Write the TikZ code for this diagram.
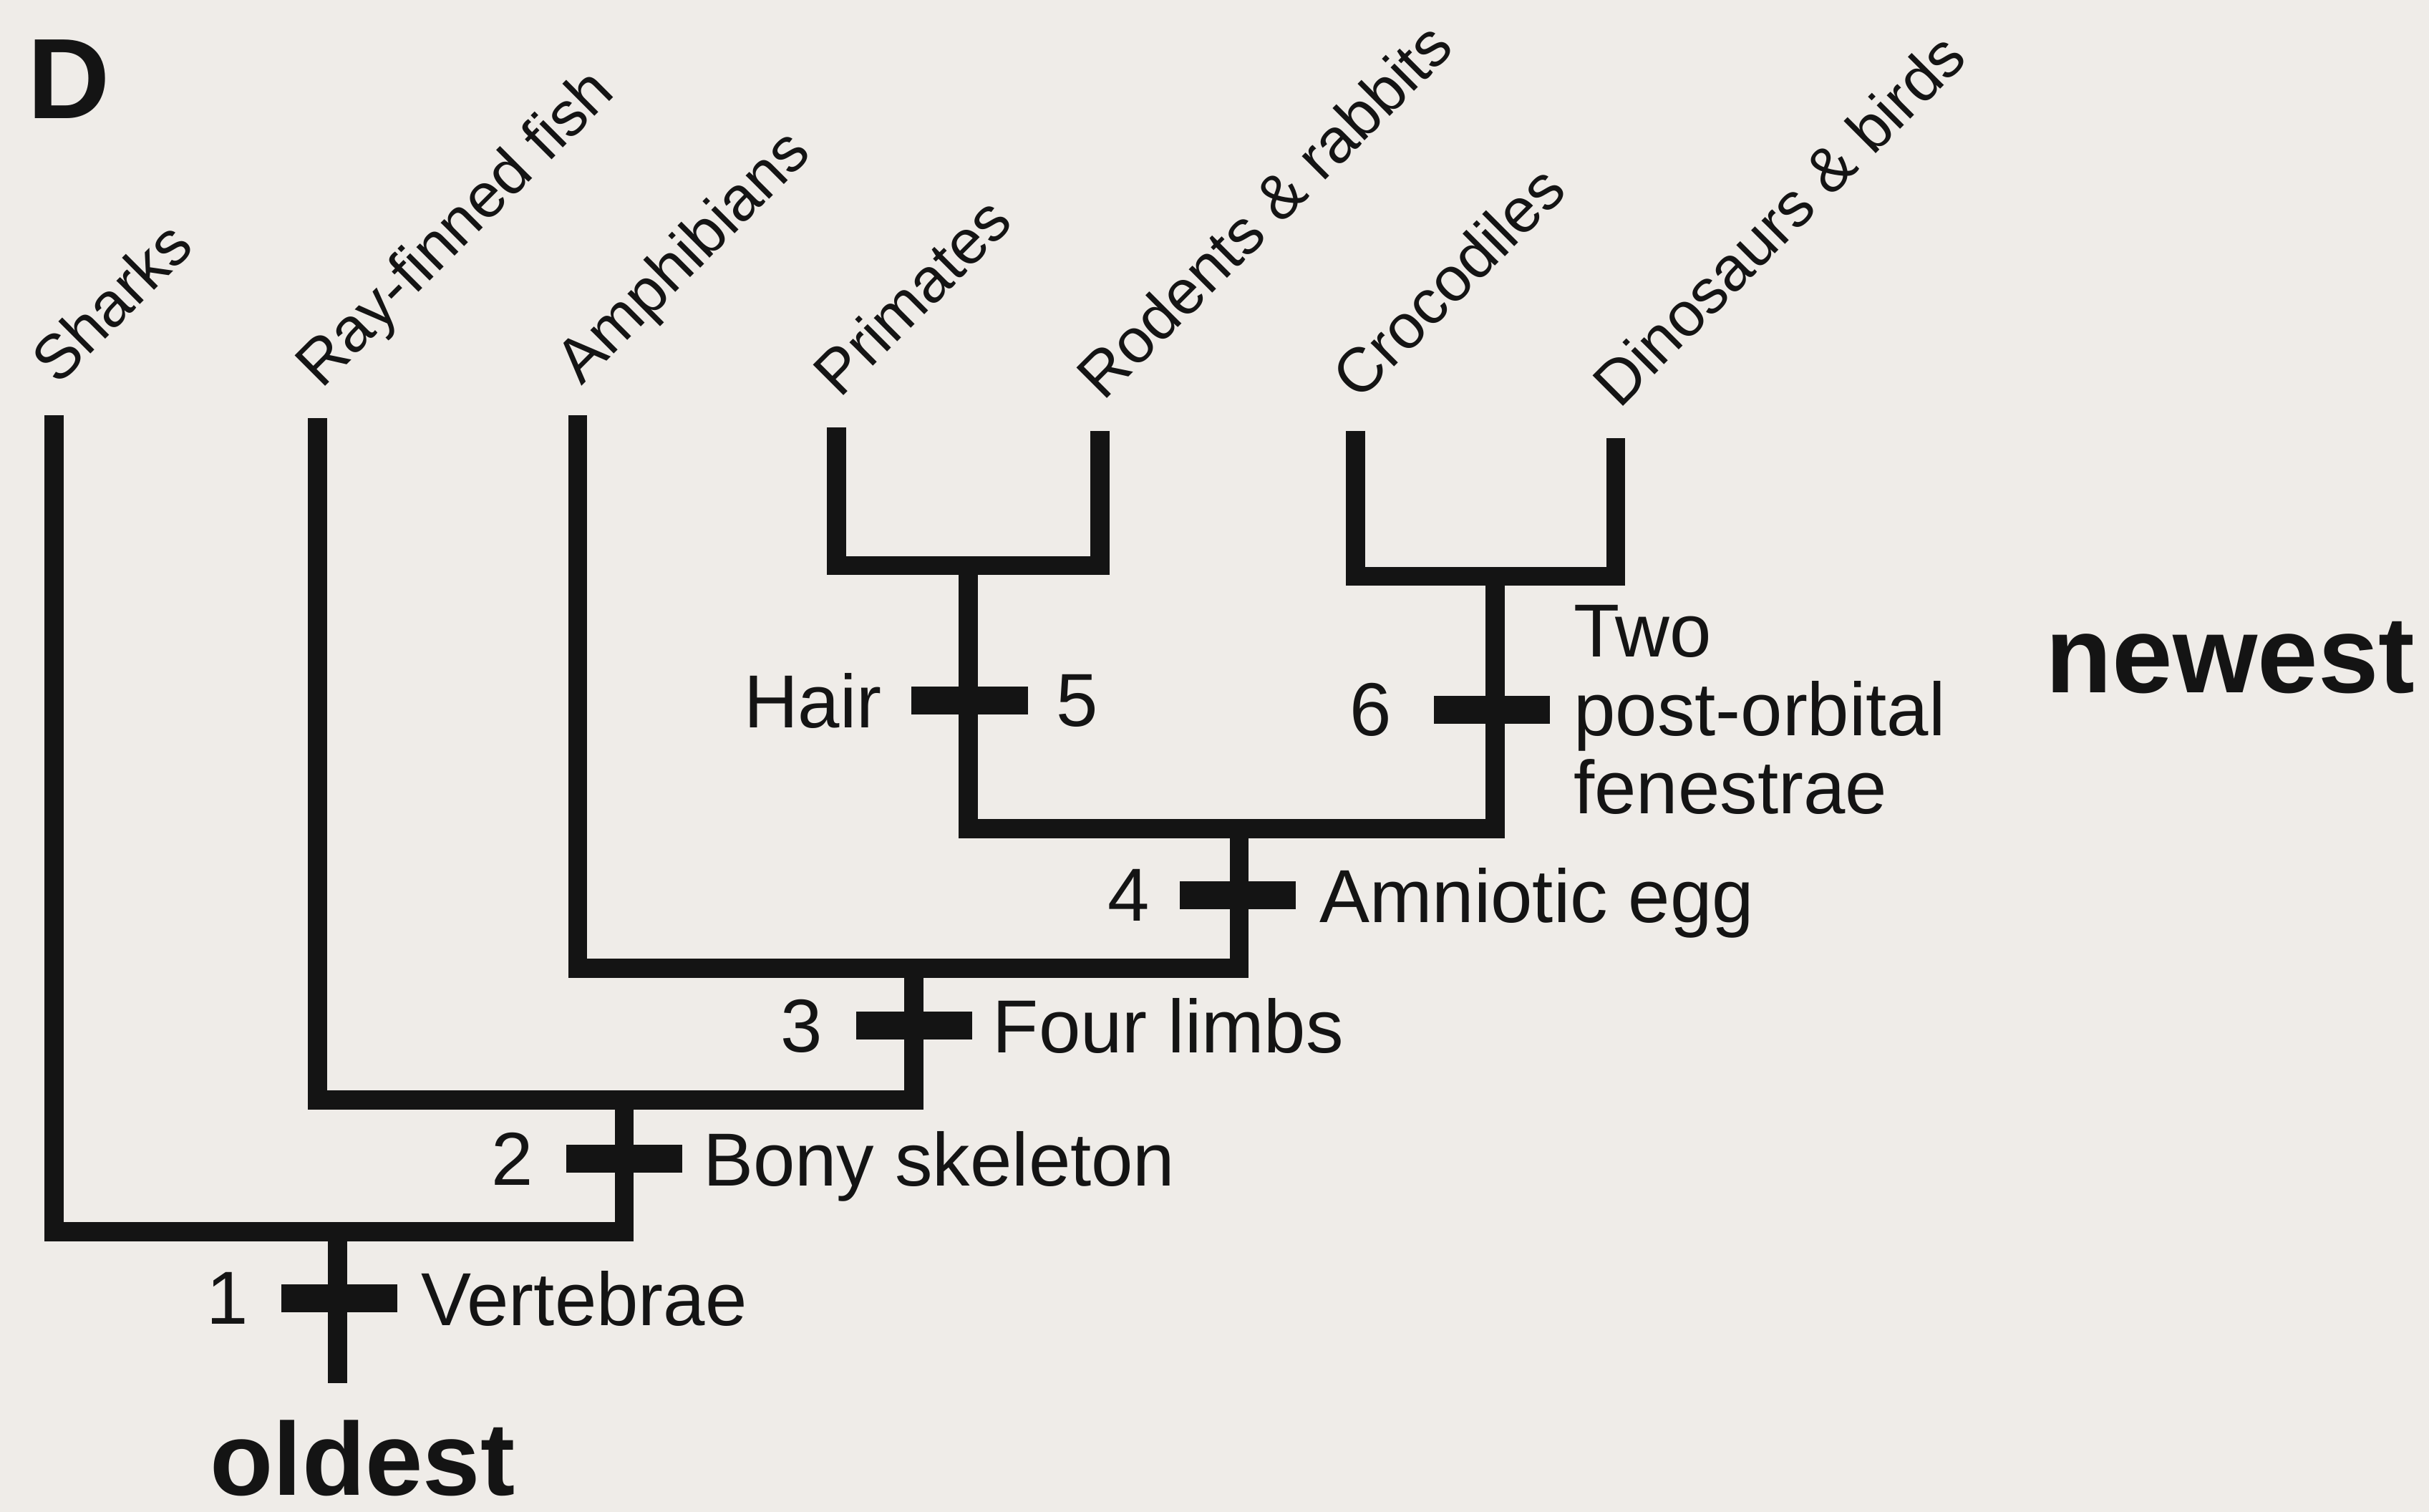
\documentclass[tikz,border=0pt]{standalone}
\usepackage{fontspec}
\setmainfont{Liberation Sans}
\usetikzlibrary{positioning}
\usepackage{xcolor}
\definecolor{ink}{HTML}{141414}
\definecolor{paper}{HTML}{EFECE8}

\begin{document}
\begin{tikzpicture}[
  node distance=0.2cm and 0.14cm,
  branch/.style={draw=ink, line width=3.5pt},
  tick/.style={fill=ink, minimum width=0.75cm, minimum height=0.18cm, inner sep=0pt},
  taxon/.style={rotate=45, anchor=base west, inner sep=0pt, text=ink, font=\fontsize{11.5}{14}\selectfont},
  trait/.style={inner sep=0pt, text depth=0pt, text=ink, font=\fontsize{13.8}{14.4}\selectfont},
  hand/.style={inner sep=0pt, anchor=base west, text=ink, font=\bfseries\fontsize{19}{22}\selectfont}
]
\fill[paper] (0,0) rectangle (15.68,-9.76);
\useasboundingbox (0,0) rectangle (15.68,-9.76);

\node[inner sep=0pt, anchor=north west, text=ink, font=\bfseries\fontsize{21}{24}\selectfont] (panel) at (0.17,-0.25) {D};

\coordinate (tsharks) at (0.35,-2.68);
\coordinate (tray) at (2.05,-2.70);
\coordinate (tamph) at (3.73,-2.68);
\coordinate (tprim) at (5.40,-2.76);
\coordinate (trod) at (7.10,-2.78);
\coordinate (tcroc) at (8.75,-2.78);
\coordinate (tdino) at (10.43,-2.83);

\coordinate (j5) at (6.25,-3.65);
\coordinate (j6) at (9.65,-3.72);
\coordinate (j4) at (8.00,-5.35);
\coordinate (j3) at (5.90,-6.25);
\coordinate (j2) at (4.03,-7.10);
\coordinate (j1) at (2.18,-7.95);
\coordinate (root) at (2.18,-8.93);

\path (tsharks) ++(0.02,0.18) node[taxon] (lsharks) {Sharks};
\path (tray) ++(0.02,0.18) node[taxon] (lray) {Ray-finned fish};
\path (tamph) ++(0.02,0.18) node[taxon] (lamph) {Amphibians};
\path (tprim) ++(0.02,0.18) node[taxon] (lprim) {Primates};
\path (trod) ++(0.02,0.18) node[taxon] (lrod) {Rodents \& rabbits};
\path (tcroc) ++(0.02,0.18) node[taxon] (lcroc) {Crocodiles};
\path (tdino) ++(0.02,0.18) node[taxon] (ldino) {Dinosaurs \& birds};

\draw[branch] (tprim) |- (j5) -| (trod);
\draw[branch] (tcroc) |- (j6) -| (tdino);
\draw[branch] (j5) |- (j4) -| (j6);
\draw[branch] (tamph) |- (j3) -| (j4);
\draw[branch] (tray) |- (j2) -| (j3);
\draw[branch] (tsharks) |- (j1) -| (j2);
\draw[branch] (j1) -- (root);

\node[tick] (k1) at (2.19,-8.38) {};
\node[tick] (k2) at (4.03,-7.48) {};
\node[tick] (k3) at (5.90,-6.62) {};
\node[tick] (k4) at (7.99,-5.78) {};
\node[tick] (k5) at (6.26,-4.52) {};
\node[tick] (k6) at (9.63,-4.58) {};

\node[trait, left=0.2cm of k1] (n1) {1};
\node[trait, right=of k1] (c1) {Vertebrae};
\node[trait, left=0.2cm of k2] (n2) {2};
\node[trait, right=0.12cm of k2] (c2) {Bony skeleton};
\node[trait, left=0.2cm of k3] (n3) {3};
\node[trait, right=0.12cm of k3] (c3) {Four limbs};
\node[trait, left=0.18cm of k4] (n4) {4};
\node[trait, right=of k4] (c4) {Amniotic egg};
\node[trait, left=0.18cm of k5] (c5) {Hair};
\node[trait, right=0.17cm of k5] (n5) {5};
\node[trait, left=0.26cm of k6] (n6) {6};
\node[trait, right=of k6, align=left] (c6) {Two\\post-orbital\\fenestrae};

\node[hand, font=\bfseries\fontsize{20}{22}\selectfont] (newest) at (13.2,-4.47) {newest};
\node[hand] (oldest) at (1.35,-9.65) {oldest};
\end{tikzpicture}
\end{document}
